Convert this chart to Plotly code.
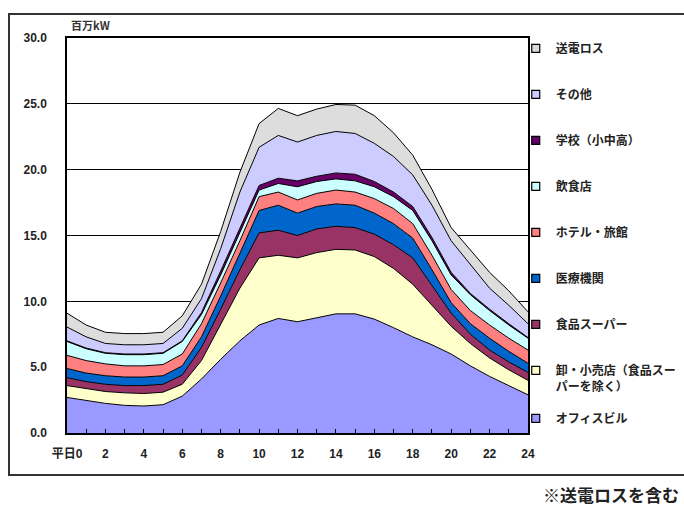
import plotly.graph_objects as go

# Hourly weekday demand by building type (million kW), hours 0-24
hours = list(range(25))

office = [2.7, 2.45, 2.25, 2.1, 2.05, 2.15, 2.8, 4.1, 5.6, 7.0, 8.2, 8.7, 8.45,
          8.75, 9.05, 9.05, 8.65, 8.0, 7.3, 6.7, 6.0, 5.1, 4.3, 3.6, 2.9]
retail = [0.9, 0.9, 0.9, 0.95, 0.95, 0.95, 0.9, 1.4, 2.6, 4.0, 5.1, 4.8, 4.85,
          4.95, 4.9, 4.85, 4.75, 4.5, 4.0, 3.0, 2.1, 1.7, 1.4, 1.2, 1.1]
supermarket = [0.6, 0.55, 0.55, 0.55, 0.6, 0.6, 0.7, 1.0, 1.2, 1.4, 1.9, 1.9, 1.7,
               1.8, 1.75, 1.7, 1.7, 1.8, 2.0, 1.5, 1.0, 0.7, 0.6, 0.6, 0.6]
medical = [0.7, 0.65, 0.65, 0.65, 0.65, 0.65, 0.7, 0.8, 1.0, 1.2, 1.7, 1.9, 1.7,
           1.7, 1.7, 1.7, 1.6, 1.6, 1.5, 1.2, 0.8, 0.8, 0.9, 0.8, 0.7]
hotel = [1.0, 0.95, 0.9, 0.85, 0.85, 0.85, 0.9, 1.0, 1.0, 1.0, 1.05, 1.0, 1.0,
         1.0, 1.05, 1.0, 1.1, 1.15, 1.1, 1.1, 1.0, 1.0, 1.0, 1.0, 1.0]
restaurant = [1.05, 0.9, 0.8, 0.85, 0.85, 0.85, 0.95, 0.7, 0.6, 0.6, 0.5, 0.65, 1.0,
              0.9, 0.85, 0.85, 0.9, 0.9, 1.0, 1.1, 1.1, 1.2, 1.1, 1.0, 0.9]
school = [0.05, 0.05, 0.05, 0.05, 0.05, 0.05, 0.05, 0.15, 0.3, 0.4, 0.35, 0.4, 0.45,
          0.4, 0.45, 0.5, 0.4, 0.35, 0.3, 0.25, 0.2, 0.1, 0.1, 0.1, 0.05]
other = [1.05, 0.85, 0.7, 0.7, 0.7, 0.7, 0.95, 1.05, 1.7, 2.7, 2.9, 3.25, 2.95,
         3.1, 3.15, 3.1, 2.9, 2.7, 2.4, 2.45, 2.4, 2.2, 1.6, 1.4, 1.05]
loss = [1.05, 0.9, 0.85, 0.85, 0.85, 0.85, 0.95, 1.1, 1.3, 1.5, 1.8, 2.05, 2.0,
        2.0, 2.05, 2.15, 2.1, 1.8, 1.5, 1.2, 1.0, 1.1, 1.2, 1.1, 0.9]

names = ["オフィスビル", "卸・小売店（食品スー<br>パーを除く）", "食品スーパー", "医療機関",
         "ホテル・旅館", "飲食店", "学校（小中高）", "その他", "送電ロス"]
colors = ["#9999FF", "#FFFFCC", "#993366", "#0066CC", "#FF8080",
          "#CCFFFF", "#660066", "#CCCCFF", "#DDDDDD"]
values = [office, retail, supermarket, medical, hotel, restaurant, school, other, loss]

x_labels = ["平日0" if h == 0 else (str(h) if h % 2 == 0 else "") for h in hours]

JP = "Noto Sans CJK JP"
fig = go.Figure()

# stacked areas, bottom layer first
for name, vals, col in zip(names, values, colors):
    fig.add_trace(go.Scatter(
        x=hours, y=vals, stackgroup="demand", mode="lines",
        line=dict(color="black", width=1), fillcolor=col,
        name=name, showlegend=False, hoverinfo="skip"))

# legend entries with square swatches, top layer listed first
for i, (name, col) in enumerate(reversed(list(zip(names, colors)))):
    fig.add_trace(go.Scatter(
        x=[None], y=[None], mode="markers",
        marker=dict(symbol="square", size=8, color=col,
                    line=dict(color="black", width=1.2)),
        name=name, legendgroup=f"g{i}",
        legend="legend2" if i == len(names) - 1 else "legend"))

legend_style = dict(
    xref="container", yref="container", xanchor="left", yanchor="top",
    font=dict(family=JP, size=12, color="#222", weight="bold"),
    bgcolor="rgba(0,0,0,0)",
    tracegroupgap=27, valign="top", itemwidth=30, traceorder="grouped",
    maxheight=500)

fig.update_layout(
    width=684, height=508,
    margin=dict(l=67, r=156, t=38, b=75, autoexpand=False),
    paper_bgcolor="white", plot_bgcolor="white",
    font=dict(family="Liberation Sans, Arial", color="#222"),
    legend=dict(x=0.754, y=1 - 34 / 508, **legend_style),
    legend2=dict(x=0.754, y=1 - 404 / 508, **legend_style),
    xaxis=dict(
        range=[0, 24], tickmode="array", tickvals=hours, ticktext=x_labels,
        ticks="inside", ticklen=4, tickcolor="black", tickwidth=1.2,
        showline=True, mirror=True, linecolor="black", linewidth=1.5,
        showgrid=False, zeroline=False, ticklabelstandoff=9,
        tickfont=dict(family="Liberation Sans, " + JP, size=12, color="#222", weight="bold")),
    yaxis=dict(
        range=[0, 30], dtick=5, tickformat=".1f", ticks="",
        showline=True, mirror=True, linecolor="black", linewidth=1.5,
        showgrid=True, gridcolor="black", gridwidth=1.2, zeroline=False,
        ticklabelstandoff=16,
        tickfont=dict(family="Liberation Sans", size=12, color="#222", weight="bold")),
    annotations=[
        dict(text="百万kW", xref="paper", yref="paper", x=0.005, y=1.033,
             xanchor="left", yanchor="middle", showarrow=False,
             font=dict(family=JP, size=11, color="#333", weight="bold")),
        dict(text="※送電ロスを含む", xref="paper", yref="paper", x=(681 - 67) / 461,
             y=(433 - 494) / 395, xanchor="right", yanchor="middle", showarrow=False,
             font=dict(family=JP, size=17, color="#222", weight="bold")),
    ],
    shapes=[dict(type="rect", xref="paper", yref="paper",
                 x0=(9 - 67) / 461, x1=(700 - 67) / 461,
                 y0=(433 - 475) / 395, y1=(433 - 14) / 395,
                 line=dict(color="#333", width=2), layer="below")],
)

fig.write_html("out.html")
